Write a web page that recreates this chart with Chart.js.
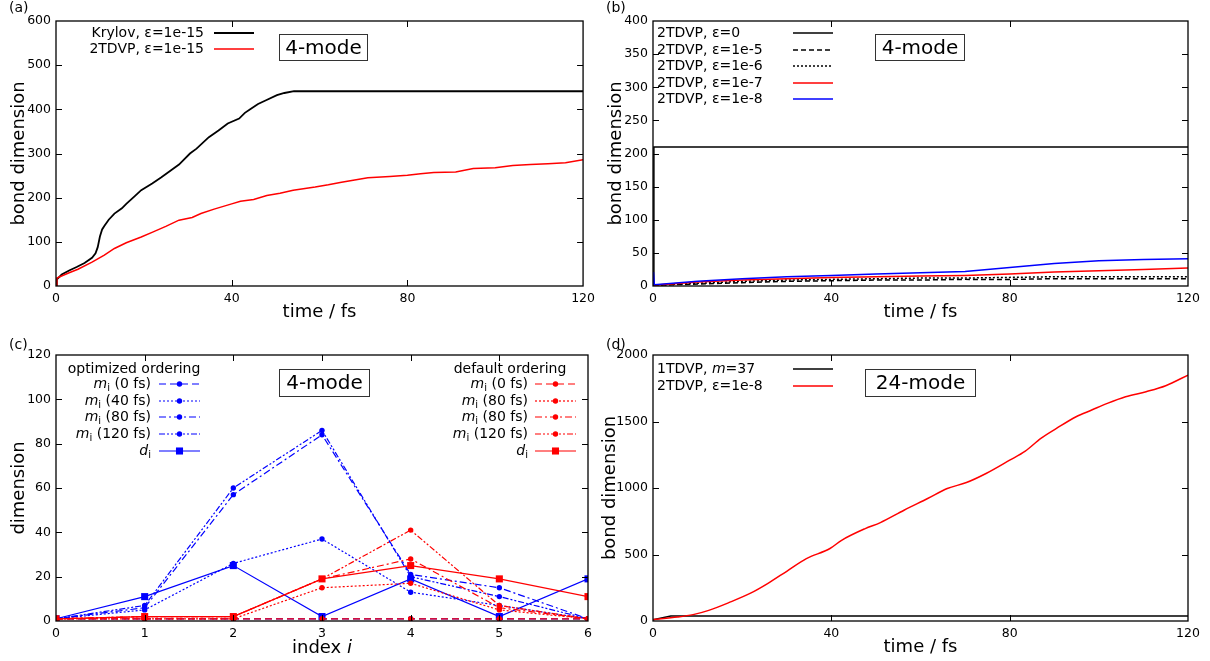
<!DOCTYPE html>
<html><head><meta charset="utf-8">
<script src="https://cdn.jsdelivr.net/npm/chart.js@4.4.0/dist/chart.umd.min.js"></script>
<style>
html,body{margin:0;padding:0;background:#fff;}
#wrap{position:relative;width:1210px;height:661px;overflow:hidden;background:#fff;}
canvas{position:absolute;}
</style></head><body>
<div id="wrap">
<canvas id="ca" style="left:0px;top:0px" width="600" height="330"></canvas>
<canvas id="cb" style="left:600px;top:0px" width="610" height="330"></canvas>
<canvas id="cc" style="left:0px;top:330px" width="600" height="331"></canvas>
<canvas id="cd" style="left:600px;top:330px" width="610" height="331"></canvas>
</div>
<script>
// ---------- data: panel (a) ----------
const krylovT = [0, 0.2, 1.3, 3, 4.7, 6.5, 8.2, 9, 9.5, 10, 10.5, 11, 12, 13.3, 15, 16, 18, 19.4, 21.9, 24, 26.2, 28, 30.5, 32, 34.8, 37, 39.1, 41.7, 43, 44.3, 46, 47.7, 50.3, 52, 54.2, 120];
const krylovD = [0, 15, 26, 35, 43, 52, 64, 74, 88, 112, 128, 136, 150, 164, 176, 186, 204, 217, 232, 246, 262, 275, 300, 311, 337, 352, 368, 379, 392, 401, 412, 420, 432, 437, 441, 441];
const tdvpAT = [0, 0.2, 3, 5, 8.2, 11, 13.3, 16, 19.4, 22, 25, 28, 31, 33, 36, 40, 42, 45, 48, 51, 54, 59, 62, 65, 68, 71, 76, 80, 83, 86, 91, 95, 100, 104, 108, 112, 116, 120];
const tdvpAD = [0, 18, 30, 38, 54, 70, 85, 98, 111, 122, 135, 149, 155, 164, 174, 186, 192, 196, 205, 210, 217, 224, 229, 235, 240, 245, 248, 251, 254, 257, 258, 266, 268, 273, 275, 277, 279, 286];
// ---------- data: panel (b) ----------
const eps0T = [0, 0.2, 120];
const eps0D = [0, 210, 210];
const epsT = [0, 10, 20, 30, 40, 50, 60, 70, 80, 90, 100, 110, 120];
const eps5D = [1, 3, 5, 7, 8, 9, 9, 10, 10, 11, 11, 11, 11];
const eps6D = [1, 4, 7, 9, 10, 11, 12, 12, 13, 14, 14, 14, 14];
const eps7D = [1, 6, 9, 11, 13, 14, 15, 16, 18, 21, 23, 25, 27];
const eps8T = [0, 0.1, 0.3, 10, 20, 30, 40, 50, 60, 70, 80, 90, 100, 110, 120];
const eps8D = [1, 21, 2, 7, 11, 14, 16, 18, 20, 22, 28, 34, 38, 40, 41];
// ---------- data: panel (c) ----------
const siteIndex = [0, 1, 2, 3, 4, 5, 6];
const optM0 = [1, 1, 1, 1, 1, 1, 1];
const optM40 = [1, 5, 26, 37, 13, 7, 1];
const optM80 = [1, 6, 57, 84, 21, 15, 1];
const optM120 = [1, 7, 60, 86, 20, 11, 1];
const optD = [1, 11, 25, 2, 19, 2, 19];
const defM0 = [1, 1, 1, 1, 1, 1, 1];
const defM40 = [1, 1, 1, 15, 17, 5, 1];
const defM80 = [1, 2, 2, 19, 28, 6, 1];
const defM120 = [1, 2, 2, 19, 41, 7, 1];
const defD = [1, 2, 2, 19, 25, 19, 11];
// ---------- data: panel (d) ----------
const m37T = [0, 4, 120];
const m37D = [10, 37, 37];
const tdvpDT = [0, 5.5, 9, 12.5, 17, 22, 25.7, 30, 34.4, 39.7, 42.3, 47.6, 51, 56.3, 61.6, 66, 70.3, 74.7, 80, 83.5, 87, 90.5, 94.9, 98.4, 101.9, 106, 110.6, 115, 120];
const tdvpDD = [12, 30, 48, 80, 138, 211, 281, 374, 469, 545, 607, 695, 740, 833, 921, 996, 1041, 1109, 1209, 1277, 1373, 1448, 1536, 1586, 1636, 1686, 1724, 1769, 1849];

// ---------- labels ----------
const labelsA = ['Krylov, ε=1e-15', '2TDVP, ε=1e-15'];
const labelsB = ['2TDVP, ε=0', '2TDVP, ε=1e-5', '2TDVP, ε=1e-6', '2TDVP, ε=1e-7', '2TDVP, ε=1e-8'];
const labelsCopt = ['*m*_i (0 fs)', '*m*_i (40 fs)', '*m*_i (80 fs)', '*m*_i (120 fs)', '*d*_i'];
const labelsCdef = ['*m*_i (0 fs)', '*m*_i (80 fs)', '*m*_i (80 fs)', '*m*_i (120 fs)', '*d*_i'];
const labelsD = ['1TDVP, *m*=37', '2TDVP, ε=1e-8'];

const FONT = '"DejaVu Sans", sans-serif';
const LEG = 14;
Chart.defaults.font.family = FONT;
Chart.defaults.font.size = 12;
Chart.defaults.color = '#000';

function pts(xs, ys) { return xs.map((x, i) => ({ x: x, y: ys[i] })); }

function parseRich(s) {
  const segs = []; let buf = ''; let i = 0;
  const flush = () => { if (buf) { segs.push({ t: buf }); buf = ''; } };
  while (i < s.length) {
    const c = s[i];
    if (c === '*') { const j = s.indexOf('*', i + 1); flush(); segs.push({ t: s.slice(i + 1, j), it: true }); i = j + 1; }
    else if (c === '_') { flush(); segs.push({ t: s[i + 1], sub: true }); i += 2; }
    else { buf += c; i++; }
  }
  flush();
  return segs;
}
function drawRich(ctx, s, x, y, size, align) {
  const segs = parseRich(s);
  const fontOf = g => (g.it ? 'italic ' : '') + (g.sub ? size * 0.72 : size) + 'px ' + FONT;
  let w = 0;
  segs.forEach(g => { ctx.font = fontOf(g); g.w = ctx.measureText(g.t).width; w += g.w; });
  let cx = align === 'right' ? x - w : (align === 'center' ? x - w / 2 : x);
  ctx.textAlign = 'left'; ctx.textBaseline = 'middle'; ctx.fillStyle = '#000';
  segs.forEach(g => { ctx.font = fontOf(g); ctx.fillText(g.t, cx, g.sub ? y + size * 0.3 : y); cx += g.w; });
}
function drawMarker(ctx, ds, x, y) {
  const r = ds.pointRadius; if (!r) return;
  ctx.fillStyle = ds.borderColor;
  ctx.beginPath();
  if (ds.pointStyle === 'rect') { const s = Math.SQRT1_2 * r; ctx.rect(x - s, y - s, 2 * s, 2 * s); }
  else ctx.arc(x, y, r, 0, Math.PI * 2);
  ctx.fill();
}

const decoPlugin = {
  id: 'deco',
  afterDraw(chart, args, o) {
    const ctx = chart.ctx, a = chart.chartArea;
    const xs = chart.scales.x, ys = chart.scales.y;
    ctx.save();
    ctx.setLineDash([]);
    ctx.strokeStyle = '#000'; ctx.lineWidth = 1;
    const L = 6;
    ctx.beginPath();
    xs.ticks.forEach(t => {
      const p = Math.round(xs.getPixelForValue(t.value)) + 0.5;
      if (p < a.left + 2 || p > a.right - 2) return;
      ctx.moveTo(p, a.bottom); ctx.lineTo(p, a.bottom - L);
      ctx.moveTo(p, a.top); ctx.lineTo(p, a.top + L);
    });
    ys.ticks.forEach(t => {
      const p = Math.round(ys.getPixelForValue(t.value)) + 0.5;
      if (p < a.top + 2 || p > a.bottom - 2) return;
      ctx.moveTo(a.left, p); ctx.lineTo(a.left + L, p);
      ctx.moveTo(a.right, p); ctx.lineTo(a.right - L, p);
    });
    ctx.stroke();
    ctx.lineWidth = 1.3;
    ctx.strokeRect(a.left, a.top, a.right - a.left, a.bottom - a.top);
    // panel label
    ctx.fillStyle = '#000'; ctx.font = '14px ' + FONT; ctx.textAlign = 'left'; ctx.textBaseline = 'middle';
    ctx.fillText(o.label, o.labelX, o.labelY);
    // mode box
    if (o.box) {
      const b = o.box;
      ctx.fillStyle = '#fff'; ctx.fillRect(b.x, b.y, b.w, b.h);
      ctx.strokeStyle = '#333'; ctx.lineWidth = 1; ctx.strokeRect(b.x + 0.5, b.y + 0.5, b.w, b.h);
      ctx.fillStyle = '#000'; ctx.font = '20px ' + FONT; ctx.textAlign = 'center'; ctx.textBaseline = 'middle';
      ctx.fillText(b.text, b.x + b.w / 2 + 0.5, b.y + b.h / 2 + 1.5);
    }
    // legends
    (o.legends || []).forEach(lg => {
      if (lg.title) drawRich(ctx, lg.title, lg.titleX, lg.titleY, lg.size, 'center');
      lg.items.forEach((it, k) => {
        const ds = chart.data.datasets[it.ds]; const y = lg.rows[k];
        drawRich(ctx, it.label, lg.textX, y, lg.size, lg.align);
        ctx.save();
        ctx.strokeStyle = ds.borderColor; ctx.lineWidth = ds.borderWidth; ctx.setLineDash(ds.borderDash || []);
        ctx.beginPath(); ctx.moveTo(lg.x1, y); ctx.lineTo(lg.x2, y); ctx.stroke();
        ctx.restore();
        if (lg.markers) drawMarker(ctx, ds, (lg.x1 + lg.x2) / 2, y);
      });
    });
    if (o.xTitle) drawRich(ctx, o.xTitle.text, (a.left + a.right) / 2, o.xTitle.y, o.xTitle.size, 'center');
    ctx.restore();
  }
};

function makeChart(id, W, H, area, xo, yo, datasets, deco) {
  return new Chart(document.getElementById(id), {
    type: 'line',
    data: { datasets: datasets },
    options: {
      responsive: false, animation: false, devicePixelRatio: 1,
      layout: { padding: { left: 0, top: area.t, right: W - area.r, bottom: 0 } },
      elements: { line: { tension: 0 }, point: { radius: 0 } },
      scales: {
        x: {
          type: 'linear', min: xo.min, max: xo.max,
          grid: { display: false, drawTicks: false }, border: { display: false },
          ticks: { stepSize: xo.step, autoSkip: false, maxRotation: 0, padding: 5, font: { size: 12.5 }, color: '#000', callback: v => String(v) },
          title: xo.title ? { display: true, text: xo.title, font: { size: 18 }, color: '#000', padding: { top: 0, bottom: xo.tpad } } : { display: false },
          afterFit: s => { s.height = H - area.b; }
        },
        y: {
          type: 'linear', min: yo.min, max: yo.max,
          grid: { display: false, drawTicks: false }, border: { display: false },
          ticks: { stepSize: yo.step, autoSkip: false, padding: 5, font: { size: 12.5 }, color: '#000', callback: v => String(v) },
          title: { display: true, text: yo.title, font: { size: 18 }, color: '#000', padding: { top: yo.tpad, bottom: 0 } },
          afterFit: s => { s.width = area.l; }
        }
      },
      plugins: { legend: { display: false }, tooltip: { enabled: false }, deco: deco }
    },
    plugins: [decoPlugin]
  });
}

function line(data, color, dash, width, order, smooth) {
  const d = { data: data, borderColor: color, backgroundColor: color, borderDash: dash, borderWidth: width, pointRadius: 0, fill: false, order: order || 0 };
  if (smooth) d.cubicInterpolationMode = 'monotone';
  return d;
}
function mline(xs, ys, color, dash, style, order) {
  return {
    data: pts(xs, ys), borderColor: color, backgroundColor: color, borderDash: dash, borderWidth: 1.2,
    pointStyle: style, pointRadius: style === 'rect' ? 5 : 2.7, pointBorderWidth: 0,
    pointBackgroundColor: color, pointBorderColor: color, fill: false, order: order
  };
}

// ---------- panel (a) ----------
makeChart('ca', 600, 330, { l: 56, r: 588, t: 21, b: 286 },
  { min: 0, max: 120, step: 40, title: 'time / fs', tpad: 7 },
  { min: 0, max: 600, step: 100, title: 'bond dimension', tpad: 9 },
  [line(pts(krylovT, krylovD), '#000000', [], 1.8, 1), line(pts(tdvpAT, tdvpAD), '#ff0000', [], 1.5, 0)],
  {
    label: '(a)', labelX: 9, labelY: 8,
    box: { x: 279, y: 34, w: 88, h: 26, text: '4-mode' },
    legends: [{ size: LEG, align: 'right', textX: 204, x1: 214, x2: 254, rows: [33, 49],
      items: [{ ds: 0, label: labelsA[0] }, { ds: 1, label: labelsA[1] }] }]
  });

// ---------- panel (b) ----------
makeChart('cb', 610, 330, { l: 53, r: 588, t: 21, b: 286 },
  { min: 0, max: 120, step: 40, title: 'time / fs', tpad: 7 },
  { min: 0, max: 400, step: 50, title: 'bond dimension', tpad: 6 },
  [line(pts(eps0T, eps0D), '#000000', [], 1.5, 4),
   line(pts(epsT, eps5D), '#000000', [5, 3], 1.5, 3),
   line(pts(epsT, eps6D), '#000000', [2, 2], 1.5, 2),
   line(pts(epsT, eps7D), '#ff0000', [], 1.5, 1),
   line(pts(eps8T, eps8D), '#0000ff', [], 1.5, 0)],
  {
    label: '(b)', labelX: 6, labelY: 8,
    box: { x: 275, y: 34, w: 89, h: 26, text: '4-mode' },
    legends: [{ size: LEG, align: 'left', textX: 57, x1: 193, x2: 233, rows: [33, 50, 66, 83, 99],
      items: labelsB.map((l, i) => ({ ds: i, label: l })) }]
  });

// ---------- panel (c) ----------
makeChart('cc', 600, 331, { l: 56, r: 588, t: 25, b: 291 },
  { min: 0, max: 6, step: 1, title: null },
  { min: 0, max: 120, step: 20, title: 'dimension', tpad: 9 },
  [mline(siteIndex, optM0, '#0000ff', [7, 4], 'circle', 2),
   mline(siteIndex, optM40, '#0000ff', [2, 2], 'circle', 2),
   mline(siteIndex, optM80, '#0000ff', [7, 3, 2, 3], 'circle', 2),
   mline(siteIndex, optM120, '#0000ff', [6, 2, 2, 2, 2, 2], 'circle', 2),
   mline(siteIndex, optD, '#0000ff', [], 'rect', 2),
   mline(siteIndex, defM0, '#ff0000', [7, 4], 'circle', 1),
   mline(siteIndex, defM40, '#ff0000', [2, 2], 'circle', 1),
   mline(siteIndex, defM80, '#ff0000', [7, 3, 2, 3], 'circle', 1),
   mline(siteIndex, defM120, '#ff0000', [6, 2, 2, 2, 2, 2], 'circle', 1),
   mline(siteIndex, defD, '#ff0000', [], 'rect', 1)],
  {
    label: '(c)', labelX: 9, labelY: 15,
    box: { x: 279, y: 39, w: 90, h: 27, text: '4-mode' },
    xTitle: { text: 'index *i*', y: 318, size: 18 },
    legends: [
      { size: LEG, title: 'optimized ordering', titleX: 134, titleY: 39, align: 'right', textX: 151, x1: 159, x2: 200, markers: true,
        rows: [54, 71, 87, 104, 121], items: labelsCopt.map((l, i) => ({ ds: i, label: l })) },
      { size: LEG, title: 'default ordering', titleX: 510, titleY: 39, align: 'right', textX: 528, x1: 535, x2: 576, markers: true,
        rows: [54, 71, 87, 104, 121], items: labelsCdef.map((l, i) => ({ ds: i + 5, label: l })) }
    ]
  });

// ---------- panel (d) ----------
makeChart('cd', 610, 331, { l: 53, r: 588, t: 25, b: 291 },
  { min: 0, max: 120, step: 40, title: 'time / fs', tpad: 3 },
  { min: 0, max: 2000, step: 500, title: 'bond dimension', tpad: 0 },
  [line(pts(m37T, m37D), '#000000', [], 1.5, 1), line(pts(tdvpDT, tdvpDD), '#ff0000', [], 1.5, 0, true)],
  {
    label: '(d)', labelX: 6, labelY: 15,
    box: { x: 265, y: 39, w: 110, h: 27, text: '24-mode' },
    legends: [{ size: LEG, align: 'left', textX: 57, x1: 193, x2: 233, rows: [39, 56],
      items: [{ ds: 0, label: labelsD[0] }, { ds: 1, label: labelsD[1] }] }]
  });
</script>
</body></html>
